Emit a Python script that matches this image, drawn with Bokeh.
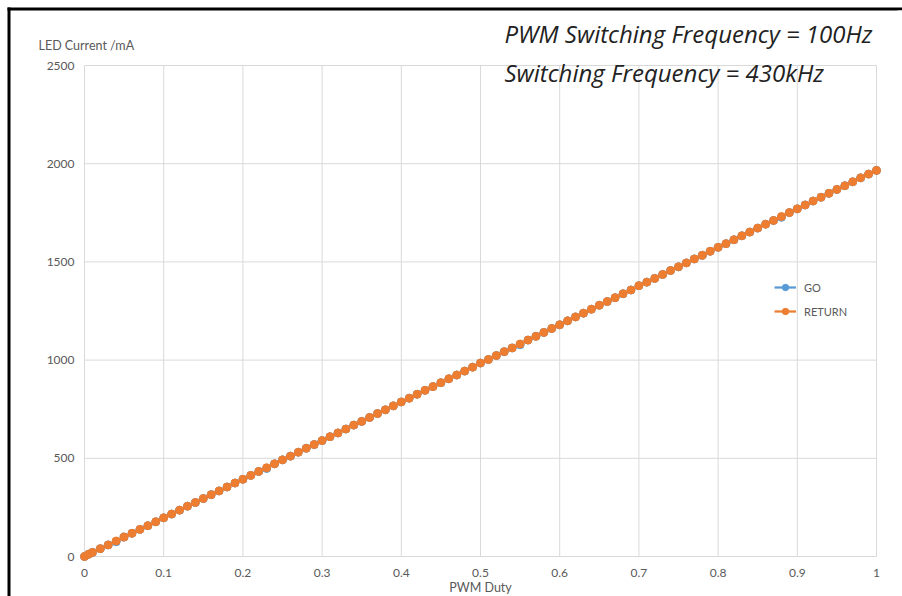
from bokeh.plotting import figure
from bokeh.models import Label, Legend, LegendItem, Range1d, BoxAnnotation
from bokeh.embed import file_html
from bokeh.resources import INLINE
from bokeh.core.properties import value

duty = [0, 0.005, 0.01, 0.02, 0.03, 0.04, 0.05, 0.06, 0.07, 0.08, 0.09,
        0.10, 0.11, 0.12, 0.13, 0.14, 0.15, 0.16, 0.17, 0.18, 0.19,
        0.20, 0.21, 0.22, 0.23, 0.24, 0.25, 0.26, 0.27, 0.28, 0.29,
        0.30, 0.31, 0.32, 0.33, 0.34, 0.35, 0.36, 0.37, 0.38, 0.39,
        0.40, 0.41, 0.42, 0.43, 0.44, 0.45, 0.46, 0.47, 0.48, 0.49,
        0.50, 0.51, 0.52, 0.53, 0.54, 0.55, 0.56, 0.57, 0.58, 0.59,
        0.60, 0.61, 0.62, 0.63, 0.64, 0.65, 0.66, 0.67, 0.68, 0.69,
        0.70, 0.71, 0.72, 0.73, 0.74, 0.75, 0.76, 0.77, 0.78, 0.79,
        0.80, 0.81, 0.82, 0.83, 0.84, 0.85, 0.86, 0.87, 0.88, 0.89,
        0.90, 0.91, 0.92, 0.93, 0.94, 0.95, 0.96, 0.97, 0.98, 0.99, 1.00]

return_ma = [0, 11, 21, 40, 59, 79, 99, 118, 138, 157, 177,
             197, 216, 236, 256, 275, 295, 315, 334, 354, 374,
             393, 413, 433, 452, 472, 492, 511, 531, 551, 570,
             590, 610, 629, 649, 669, 688, 708, 728, 747, 767,
             787, 806, 826, 846, 865, 885, 905, 924, 944, 964,
             985, 1003, 1023, 1043, 1062, 1082, 1102, 1121, 1141, 1161,
             1180, 1200, 1220, 1239, 1259, 1279, 1298, 1318, 1338, 1357,
             1379, 1397, 1416, 1436, 1456, 1475, 1495, 1515, 1534, 1554,
             1574, 1593, 1613, 1633, 1652, 1672, 1692, 1711, 1731, 1751,
             1770, 1790, 1810, 1829, 1849, 1869, 1888, 1908, 1928, 1947, 1966]

go_ma = [0, 11, 21, 40, 59, 75, 99, 118, 138, 157, 177,
         197, 216, 236, 256, 275, 295, 315, 334, 354, 374,
         393, 413, 433, 448, 472, 492, 511, 531, 551, 570,
         590, 610, 629, 649, 669, 688, 708, 728, 747, 767,
         787, 806, 826, 846, 865, 885, 905, 924, 944, 964,
         985, 1003, 1023, 1043, 1062, 1078, 1102, 1121, 1141, 1161,
         1180, 1200, 1220, 1239, 1259, 1279, 1298, 1318, 1338, 1357,
         1379, 1397, 1416, 1436, 1456, 1475, 1495, 1515, 1534, 1554,
         1574, 1593, 1613, 1633, 1652, 1672, 1692, 1711, 1727, 1751,
         1770, 1790, 1810, 1829, 1849, 1869, 1888, 1908, 1928, 1947, 1966]

x_ticks = [0, 0.1, 0.2, 0.3, 0.4, 0.5, 0.6, 0.7, 0.8, 0.9, 1]
x_tick_labels = ["0", "0.1", "0.2", "0.3", "0.4", "0.5", "0.6", "0.7", "0.8", "0.9", "1"]
y_ticks = [0, 500, 1000, 1500, 2000, 2500]
y_tick_labels = ["0", "500", "1000", "1500", "2000", "2500"]

series_names = ["GO", "RETURN"]
series_colors = ["#5B9BD5", "#ED7D31"]

TICK_FONT = "Lato"
GRAY = "#595959"

W, H = 902, 596
# pixel layout: x=0 at px 84, x=1 at px 876; y=0 at px 556, y=2500 at px 65
X0, X1, Y0, Y1 = 84.0, 876.0, 556.0, 65.0
sx = (X1 - X0) / (x_ticks[-1] - x_ticks[0])
sy = (Y0 - Y1) / (y_ticks[-1] - y_ticks[0])
x_range = Range1d(-X0 / sx, (W - X0) / sx)
y_range = Range1d((Y0 - H) / sy, Y0 / sy)

p = figure(width=W, height=H, x_range=x_range, y_range=y_range,
           output_backend="svg", toolbar_location=None,
           x_axis_location=None, y_axis_location=None,
           min_border=0, min_border_left=0, min_border_right=0,
           min_border_top=0, min_border_bottom=0)
p.outline_line_color = None
p.background_fill_color = "white"
p.border_fill_color = "white"
p.xgrid.visible = False
p.ygrid.visible = False

def sy_(page_y):
    return H - page_y

# black frame (left and top edges of the cropped chart box)
p.add_layout(BoxAnnotation(left=7, right=10, bottom=0, top=sy_(7),
                           left_units="screen", right_units="screen",
                           bottom_units="screen", top_units="screen",
                           fill_color="black", fill_alpha=1, line_color=None))
p.add_layout(BoxAnnotation(left=7, right=W, bottom=sy_(10), top=sy_(7),
                           left_units="screen", right_units="screen",
                           bottom_units="screen", top_units="screen",
                           fill_color="black", fill_alpha=1, line_color=None))
# keep the right edge clean below the top bar
p.add_layout(BoxAnnotation(left=W - 5, right=W, bottom=0, top=sy_(10),
                           left_units="screen", right_units="screen",
                           bottom_units="screen", top_units="screen",
                           fill_color="white", fill_alpha=1, line_color=None,
                           level="overlay"))

# gridlines from tick arrays
p.segment(x0=x_ticks, y0=[y_ticks[0]] * len(x_ticks), x1=x_ticks, y1=[y_ticks[-1]] * len(x_ticks),
          line_color="#d9d9d9", line_width=1)
p.segment(x0=[x_ticks[0]] * len(y_ticks), y0=y_ticks, x1=[x_ticks[-1]] * len(y_ticks), y1=y_ticks,
          line_color="#d9d9d9", line_width=1)

# tick labels
p.text(x=x_ticks, y=[y_ticks[0]] * len(x_ticks), text=x_tick_labels, y_offset=16,
       text_align="center", text_baseline="middle", text_font=value(TICK_FONT),
       text_font_size="12px", text_color=GRAY)
p.text(x=[x_ticks[0]] * len(y_ticks), y=y_ticks, text=y_tick_labels, x_offset=-10,
       text_align="right", text_baseline="middle", text_font=value(TICK_FONT),
       text_font_size="12px", text_color=GRAY)

items = []
for name, col, vals in zip(series_names, series_colors, [go_ma, return_ma]):
    l = p.line(duty, vals, line_color=col, line_width=2.25)
    s = p.scatter(duty, vals, size=8, fill_color=col, line_color=col, marker="circle")
    items.append(LegendItem(label=name, renderers=[l, s]))

legend = Legend(items=items, location=(774, sy_(319)), padding=0, margin=0,
                spacing=8, glyph_width=22, glyph_height=16, label_height=16,
                label_standoff=8, border_line_color=None, background_fill_alpha=0,
                label_text_font=TICK_FONT, label_text_font_size="11px",
                label_text_color=GRAY)
p.add_layout(legend, "center")

p.add_layout(Label(x=38, y=sy_(45), x_units="screen", y_units="screen", text="LED Current /mA",
                   text_font=TICK_FONT, text_font_size="12.5px", text_color=GRAY,
                   text_baseline="middle"))
p.add_layout(Label(x=480, y=sy_(587), x_units="screen", y_units="screen", text="PWM Duty",
                   text_font=TICK_FONT, text_font_size="12.5px", text_color=GRAY,
                   text_baseline="middle", text_align="center"))
p.add_layout(Label(x=504, y=sy_(33), x_units="screen", y_units="screen",
                   text="PWM Switching Frequency = 100Hz",
                   text_font="Open Sans", text_font_style="italic", text_font_size="24px",
                   text_color="#222222", text_baseline="middle"))
p.add_layout(Label(x=504, y=sy_(72), x_units="screen", y_units="screen",
                   text="Switching Frequency = 430kHz",
                   text_font="Open Sans", text_font_style="italic", text_font_size="24px",
                   text_color="#222222", text_baseline="middle"))

open("out.html", "w").write(file_html(p, INLINE))
